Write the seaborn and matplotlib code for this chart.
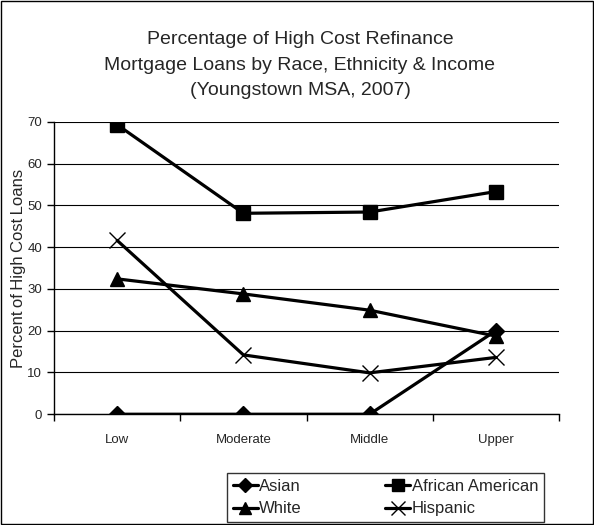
import pandas as pd
import matplotlib.pyplot as plt
import seaborn as sns
from matplotlib.lines import Line2D
from matplotlib.patches import Rectangle

income = ['Low', 'Moderate', 'Middle', 'Upper']
asian = [0, 0, 0, 20]
african_american = [69.3, 48.1, 48.4, 53.3]
white = [32.4, 28.8, 24.9, 18.7]
hispanic = [41.6, 14.2, 9.9, 13.6]

groups = ['Asian', 'African American', 'White', 'Hispanic']
markers = {'Asian': 'D', 'African American': 's', 'White': '^', 'Hispanic': 'x'}
sizes = {'Asian': 8, 'African American': 10, 'White': 10, 'Hispanic': 11}

rows = []
for name, vals in zip(groups, [asian, african_american, white, hispanic]):
    for i, v in enumerate(vals):
        rows.append({'income': i, 'group': name, 'pct': v})
df = pd.DataFrame(rows)

sns.set_style('white')
plt.rcParams['font.family'] = ['Liberation Sans', 'DejaVu Sans']

fig = plt.figure(figsize=(5.94, 5.25), dpi=100)
ax = fig.add_axes([0.091, 0.211, 0.85, 0.557])

for g in groups:
    sns.lineplot(data=df[df['group'] == g], x='income', y='pct', color='black',
                 marker=markers[g], markersize=sizes[g], markerfacecolor='black',
                 markeredgecolor='black', markeredgewidth=1, linewidth=2.3,
                 ax=ax)

ax.set_xlim(-0.5, 3.5)
ax.set_ylim(0, 70)
ax.set_yticks(range(0, 71, 10))
ax.set_xticks(range(4))
ax.set_xticklabels(income, fontsize=9.5)
ax.set_xticks([-0.5, 0.5, 1.5, 2.5, 3.5], minor=True)
ax.tick_params(axis='x', which='major', length=0, pad=14)
ax.tick_params(axis='x', which='minor', length=5, width=1, direction='out', color='black', bottom=True)
ax.tick_params(axis='y', length=5, width=1, direction='out', color='black', labelsize=9.5, left=True)
ax.yaxis.grid(True, color='black', linewidth=0.8)
ax.set_axisbelow(True)
for s in ['top', 'right']:
    ax.spines[s].set_visible(False)
for s in ['left', 'bottom']:
    ax.spines[s].set_color('black')
    ax.spines[s].set_linewidth(1)
ax.set_xlabel('')
ax.set_ylabel('Percent\u2009of\u2009High\u2009Cost\u2009Loans', fontsize=12, labelpad=1)

fig.text(0.505, 0.94, 'Percentage of High Cost Refinance\nMortgage Loans by Race, Ethnicity & Income\n(Youngstown MSA, 2007)',
         ha='center', va='top', fontsize=14, linespacing=1.62)

handles = []
for g in ['Asian', 'White', 'African American', 'Hispanic']:
    handles.append(Line2D([0], [0], color='black', lw=2.3, marker=markers[g],
                          markersize=sizes[g] - 1, markerfacecolor='black', label=g))
fig.legend(handles=handles, loc='center', bbox_to_anchor=(0.649, 0.052), ncol=2,
           frameon=True, fancybox=False, edgecolor='black', fontsize=12,
           handlelength=1.5, handletextpad=0.1, columnspacing=5.0,
           borderpad=0.35, labelspacing=0.45)

fig.patches.append(Rectangle((0.001, 0.001), 0.997, 0.997, transform=fig.transFigure,
                             fill=False, edgecolor='black', linewidth=1))

fig.savefig('out.png', dpi=100, facecolor='white')
